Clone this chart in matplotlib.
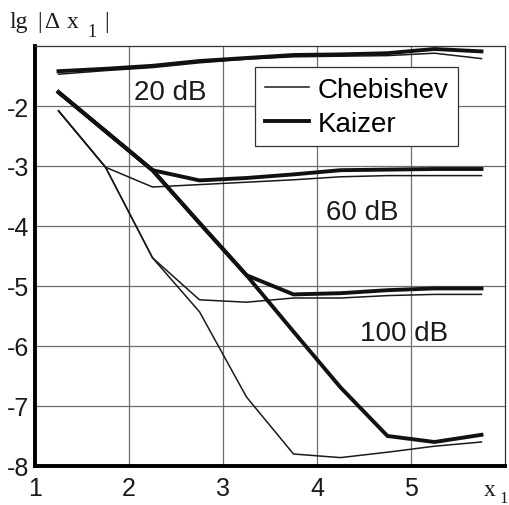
import matplotlib
matplotlib.use("Agg")
import matplotlib.pyplot as plt
from matplotlib.lines import Line2D

# ---- data ----
x_vals = [1.25, 1.75, 2.25, 2.75, 3.25, 3.75, 4.25, 4.75, 5.25, 5.75]

cheb_20 = [-1.47, -1.41, -1.36, -1.28, -1.22, -1.18, -1.17, -1.16, -1.12, -1.21]
kaiz_20 = [-1.42, -1.38, -1.33, -1.25, -1.20, -1.15, -1.14, -1.12, -1.05, -1.09]

cheb_60 = [-2.08, -3.02, -3.35, -3.31, -3.27, -3.23, -3.18, -3.16, -3.16, -3.16]
kaiz_60 = [-1.77, -2.42, -3.07, -3.24, -3.20, -3.14, -3.07, -3.06, -3.05, -3.05]

cheb_100 = [-2.08, -3.02, -4.53, -5.23, -5.27, -5.20, -5.20, -5.16, -5.14, -5.14]
kaiz_100 = [-1.77, -2.42, -3.07, -3.95, -4.82, -5.14, -5.12, -5.07, -5.04, -5.04]

cheb_140 = [-2.08, -3.02, -4.53, -5.43, -6.85, -7.80, -7.86, -7.77, -7.67, -7.60]
kaiz_140 = [-1.77, -2.42, -3.07, -3.95, -4.82, -5.76, -6.69, -7.50, -7.60, -7.48]

x_ticks = [1, 2, 3, 4, 5]
y_ticks = [-8, -7, -6, -5, -4, -3, -2]
labels = ["20 dB", "60 dB", "100 dB"]
label_pos = [(2.44, -1.77), (4.48, -3.77), (4.93, -5.79)]
legend_names = ["Chebishev", "Kaizer"]

SANS = "Liberation Sans"
SERIF = "Liberation Serif"

W, H = 509, 506
fig = plt.figure(figsize=(W / 100, H / 100), dpi=100)
ax = fig.add_axes([35 / W, 1 - 467 / H, 470 / W, 420 / H])

thin_lw = 1.1
thick_lw = 2.8
for c in [cheb_20, cheb_60, cheb_100, cheb_140]:
    ax.plot(x_vals, c, color="#1a1a1a", lw=thin_lw, solid_joinstyle="miter")
for k in [kaiz_20, kaiz_60, kaiz_100, kaiz_140]:
    ax.plot(x_vals, k, color="#111111", lw=thick_lw, solid_joinstyle="miter")

ax.set_xlim(1, 6)
ax.set_ylim(-8, -1)
ax.set_xticks(x_ticks)
ax.set_yticks(y_ticks)
ax.set_xticklabels([str(v) for v in x_ticks], fontfamily=SANS, fontsize=18)
ax.set_yticklabels([str(v) for v in y_ticks], fontfamily=SANS, fontsize=18)
ax.tick_params(axis="both", length=0, colors="#1a1a1a")
ax.tick_params(axis="x", pad=7)
ax.tick_params(axis="y", pad=4)
ax.grid(True, color="#6e6e6e", lw=0.9)
ax.set_axisbelow(True)

for s in ["left", "bottom"]:
    ax.spines[s].set_linewidth(2.8)
for s in ["top", "right"]:
    ax.spines[s].set_linewidth(0.9)
    ax.spines[s].set_color("#333333")

for t, (px, py) in zip(labels, label_pos):
    ax.text(px, py, t, fontfamily=SANS, fontsize=20, ha="center", va="center", color="#1a1a1a")

handles = [Line2D([], [], color="#1a1a1a", lw=thin_lw),
           Line2D([], [], color="#111111", lw=thick_lw)]
leg = ax.legend(handles, legend_names, loc="upper left",
                bbox_to_anchor=((255 - 35) / 470, (467 - 68) / 420),
                prop={"family": SANS, "size": 20}, frameon=True, fancybox=False,
                edgecolor="#333333", framealpha=1, borderpad=0.35,
                handlelength=1.6, handletextpad=0.3, labelspacing=0.28,
                borderaxespad=0)
leg.get_frame().set_linewidth(0.9)

# y-axis label, piece by piece
ylab_parts = [("lg", 9, 28, 17), ("|", 37, 28, 17), ("Δ", 44, 28, 17),
              ("x", 67, 28, 17), ("1", 87, 37, 13), ("|", 104, 28, 17)]
for txt, px, py, fs in ylab_parts:
    fig.text(px / W, 1 - py / H, txt, fontfamily=SERIF, fontsize=fs,
             va="baseline", ha="left", color="#1a1a1a")
# x-axis label
fig.text(484 / W, 1 - 496 / H, "x", fontfamily=SERIF, fontsize=17, va="baseline", ha="left", color="#1a1a1a")
fig.text(499 / W, 1 - 503 / H, "1", fontfamily=SERIF, fontsize=12, va="baseline", ha="left", color="#1a1a1a")

fig.savefig("out.png", dpi=100)
